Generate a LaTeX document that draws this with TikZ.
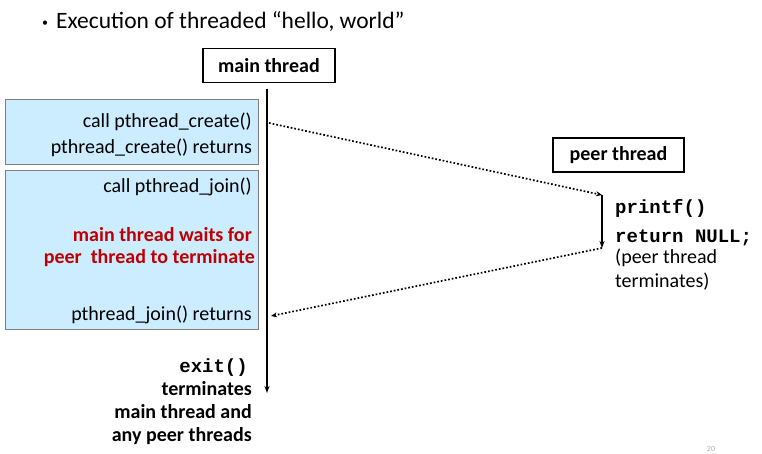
\documentclass[tikz,border=0pt]{standalone}
\usepackage{fontspec}
\setmainfont{Carlito}
\newfontfamily\cour{Liberation Mono}
\usetikzlibrary{arrows.meta}
\definecolor{boxblue}{HTML}{CCECFF}
\definecolor{boxedge}{HTML}{7F7F7F}
\definecolor{darkred}{HTML}{C00000}
\begin{document}
\begin{tikzpicture}[x=1pt,y=-1pt,
  lbl/.style={font=\fontsize{20}{24}\selectfont, inner sep=0pt, anchor=east},
  hdr/.style={draw=black, line width=1.5pt, font=\fontsize{20}{24}\selectfont\bfseries, minimum height=34pt, inner sep=0pt},
  act/.style={draw=boxedge, fill=boxblue, line width=1pt},
  dots/.style={dotted, line width=1.7pt, -{Stealth[length=6pt,width=5pt]}},
  tl/.style={line width=1.8pt, -{Stealth[length=7pt,width=5pt]}}]
\useasboundingbox (0,0) rectangle (762,454);
% title
\node[anchor=west, inner sep=0pt, font=\fontsize{23.5}{28}\selectfont] (title) at (42,22) {\raisebox{2pt}{\fontsize{12}{12}\selectfont\textbullet}\hspace{8pt}Execution of threaded “hello, world”};
% headers
\node[hdr, minimum width=132pt] (mainhdr) at (269,65.5) {main thread};
\node[hdr, minimum width=131pt] (peerhdr) at (618.5,155) {peer thread};
% boxes
\node[act, minimum width=253pt, minimum height=65pt, inner sep=0pt] (box1) at (131.5,132.5) {};
\node[act, minimum width=253pt, minimum height=158pt, inner sep=0pt] (box2) at (131.5,250) {};
% box texts
\node[lbl] (c1) at (252,122) {call pthread\_create()};
\node[lbl] (c2) at (252,148) {pthread\_create() returns};
\node[lbl] (j1) at (252,187) {call pthread\_join()};
\node[lbl, font=\fontsize{20}{24}\selectfont\bfseries, text=darkred] (w1) at (252,235) {main thread waits for};
\node[lbl, font=\fontsize{20}{24}\selectfont\bfseries, text=darkred] (w2) at (255,258) {peer\ \ thread to terminate};
\node[lbl] (j2) at (252,315) {pthread\_join() returns};
% main timeline
\coordinate (mtop) at (267,89);
\coordinate (mbot) at (267,393);
\draw[tl] (mtop) -- (mbot);
% peer timeline
\coordinate (ptop) at (602,195);
\coordinate (pbot) at (602,248);
\draw[tl] (ptop) -- (pbot);
% message arrows
\coordinate (s1) at (269,123);
\coordinate (e2) at (271,316);
\draw[dots] (s1) -- (ptop);
\draw[dots] (pbot) -- (e2);
% peer texts
\node[anchor=west, inner sep=0pt, font=\fontsize{19}{22}\selectfont\cour\bfseries] (pf) at (615,208) {printf()};
\node[anchor=west, inner sep=0pt, font=\fontsize{19}{22}\selectfont\cour\bfseries] (rn) at (615,238) {return NULL;};
\node[anchor=north west, inner sep=0pt, align=left, font=\fontsize{20}{23.5}\selectfont] (pt) at (615,249) {(peer thread\\terminates)};
% exit text
\node[anchor=east, inner sep=0pt, font=\fontsize{19}{22}\selectfont\cour\bfseries] (ex) at (248,368) {exit()};
\node[anchor=north east, inner sep=0pt, align=right, font=\fontsize{20}{23.3}\selectfont\bfseries] (term) at (252,381) {terminates\\main thread and\\any peer threads};
% page number
\node[inner sep=0pt, font=\fontsize{8}{9}\selectfont, text=gray!60] (pg) at (711,449) {20};
\end{tikzpicture}
\end{document}
